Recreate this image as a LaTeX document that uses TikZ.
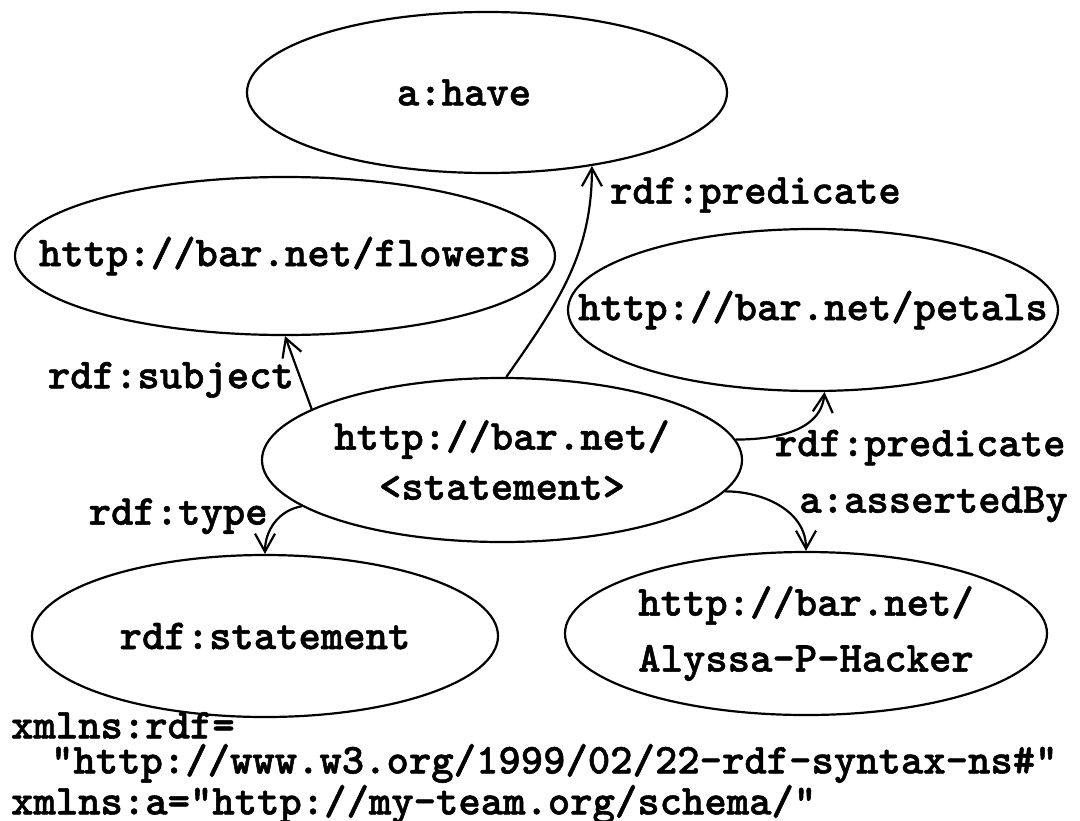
\documentclass[tikz,border=0pt]{standalone}
\usepackage{fontspec}
\setmonofont{lmmonolt10-bold.otf}[FakeBold=1.2]
\usetikzlibrary{shapes.geometric, positioning, arrows.meta}
\newcommand{\zw}[1]{\makebox[0pt]{#1}}

\begin{document}
\begin{tikzpicture}
	[on grid, line width=1.1pt, >={Straight Barb[length=9pt,width=10pt]},
	 font=\ttfamily\fontsize{21.3}{25}\selectfont,
	 ell/.style={ellipse, draw, inner sep=0pt, align=center},
	 lbl/.style={inner sep=0pt}]
   \useasboundingbox (-251pt,-180pt) rectangle (289pt,230pt);
   \node[ell, minimum width=240pt, minimum height=82pt] (stmt) {\zw{http://bar.net/}\\\zw{<statement>}};
   \node[ell, minimum width=240pt, minimum height=80.5pt] (have) [above left=183.75pt and 7.5pt of stmt] {\zw{a:have\hspace{23pt}}};
   \node[ell, minimum width=270pt, minimum height=79pt] (flow) [above left=102pt and 108.5pt of stmt] {\zw{http://bar.net/flowers}};
   \node[ell, minimum width=245pt, minimum height=81pt] (pet) [above right=75pt and 155.5pt of stmt] {\zw{http://bar.net/petals}};
   \node[ell, minimum width=233pt, minimum height=81pt] (rstmt) [below left=88pt and 118.5pt of stmt] {\zw{rdf:statement}};
   \node[ell, minimum width=241pt, minimum height=81.5pt] (alys) [below right=86.75pt and 152pt of stmt] {\zw{http://bar.net/}\\[3pt]\zw{Alyssa-P-Hacker}};
   \node[lbl, anchor=west, align=left, xshift=-127.5pt, yshift=-66pt,
         font=\ttfamily\fontsize{21.3}{17.5}\selectfont] (ns) at (rstmt)
         {xmlns:rdf=\\\hspace*{20pt}"http://www.w3.org/1999/02/22-rdf-syntax-ns\#"\\xmlns:a="http://my-team.org/schema/"};

    \path[->] 
    (stmt.87) edge [out=55, in=-90] node[lbl, at end, anchor=west, xshift=8.5pt, yshift=-14.5pt] (l_pred) {rdf:predicate} (have.-35)
    (stmt.165) edge node[lbl, pos=.4, anchor=east, xshift=-3pt] (l_subj) {rdf:subject} (flow.south)
    (stmt.5) edge [out=0, in=-95] node[lbl, at start, anchor=west, xshift=19pt, yshift=-4pt] (l_pred2) {rdf:predicate} (pet.-82)
    (stmt.-8) edge [out=0, in=90] node[lbl, at start, anchor=west, xshift=36.5pt, yshift=-6.5pt] (l_by) {a:assertedBy} (alys.north)
    (stmt.193) edge [out=190, in=90] node[lbl, at start, anchor=east, xshift=-16.5pt, yshift=-5pt] (l_type) {rdf:type} (rstmt.north);
\end{tikzpicture}
\end{document}
